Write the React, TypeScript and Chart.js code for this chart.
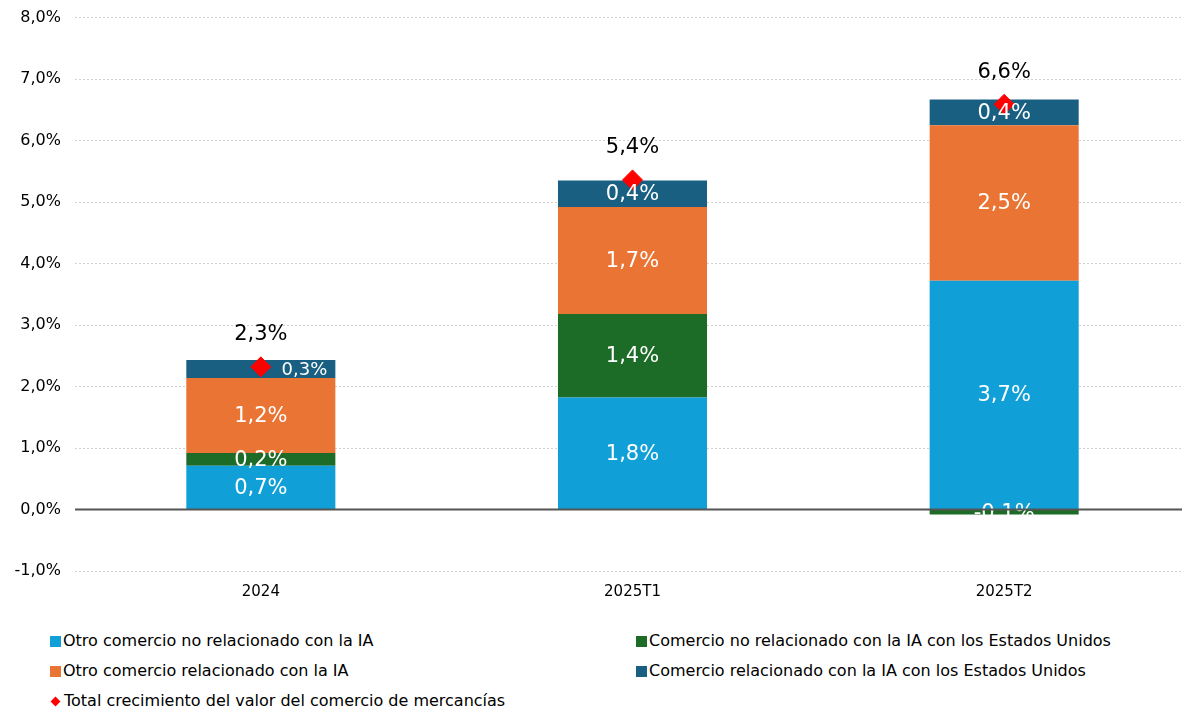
import React, { useEffect, useRef } from "react";
import { Chart, registerables } from "chart.js";

Chart.register(...registerables);

const categories = ["2024", "2025T1", "2025T2"];
const otroNoIA = [0.71, 1.82, 3.72];
const usNoIA = [0.21, 1.36, -0.08];
const otroIA = [1.22, 1.74, 2.53];
const usIA = [0.29, 0.43, 0.42];
const total = [2.32, 5.36, 6.59];

const seriesNames = [
  "Otro comercio no relacionado con la IA",
  "Comercio no relacionado con la IA con los Estados Unidos",
  "Otro comercio relacionado con la IA",
  "Comercio relacionado con la IA con los Estados Unidos",
  "Total crecimiento del valor del comercio de mercancías",
];
const colors = ["#119FD7", "#1C6B26", "#EA7434", "#185F82", "#FF0000"];

const FONT = "'DejaVu Sans', Verdana, sans-serif";
const fmt = (v: number) => v.toFixed(1).replace(".", ",") + "%";

const labelPlugin = {
  id: "segLabels",
  afterDatasetsDraw(chart: any) {
    const ctx = chart.ctx;
    ctx.save();
    ctx.textBaseline = "middle";
    const totalMeta = chart.getDatasetMeta(4);
    for (let d = 0; d < 4; d++) {
      const meta = chart.getDatasetMeta(d);
      const ds = chart.data.datasets[d];
      meta.data.forEach((el: any, i: number) => {
        const v = ds.data[i] as number;
        const top = Math.min(el.y, el.base);
        const bot = Math.max(el.y, el.base);
        const h = bot - top;
        let x = el.x;
        const y = (top + bot) / 2;
        let size = 21;
        const ty = totalMeta.data[i].y;
        ctx.textAlign = "center";
        if (h < 20 && ty > top && ty < bot) {
          size = 18;
          ctx.textAlign = "right";
          x = el.x + el.width / 2 - 8;
        }
        ctx.font = `${size}px ${FONT}`;
        ctx.fillStyle = "#ffffff";
        ctx.fillText(fmt(v), x, y + 1);
      });
    }
    ctx.textAlign = "center";
    ctx.font = `21px ${FONT}`;
    ctx.fillStyle = "#000000";
    totalMeta.data.forEach((el: any, i: number) => {
      ctx.fillText(fmt(total[i]), el.x, el.y - 32);
    });
    ctx.restore();
  },
};

const zeroLine = {
  id: "zeroLine",
  afterDatasetsDraw(chart: any) {
    const y = chart.scales.y.getPixelForValue(0);
    const ctx = chart.ctx;
    ctx.save();
    ctx.setLineDash([]);
    ctx.strokeStyle = "#555555";
    ctx.lineWidth = 2;
    ctx.beginPath();
    ctx.moveTo(chart.chartArea.left, y);
    ctx.lineTo(chart.chartArea.right, y);
    ctx.stroke();
    ctx.restore();
  },
};

export default function App() {
  const ref = useRef<HTMLCanvasElement | null>(null);
  useEffect(() => {
    if (!ref.current) return;
    const chart = new Chart(ref.current, {
      type: "bar",
      data: {
        labels: categories,
        datasets: [
          { label: seriesNames[0], data: otroNoIA, backgroundColor: colors[0], stack: "s", order: 2 },
          { label: seriesNames[1], data: usNoIA, backgroundColor: colors[1], stack: "s", order: 2 },
          { label: seriesNames[2], data: otroIA, backgroundColor: colors[2], stack: "s", order: 2 },
          { label: seriesNames[3], data: usIA, backgroundColor: colors[3], stack: "s", order: 2 },
          {
            type: "line",
            label: seriesNames[4],
            data: total,
            stack: "total",
            showLine: false,
            pointStyle: "rectRot",
            pointRadius: 10,
            pointBackgroundColor: colors[4],
            pointBorderColor: colors[4],
            borderColor: colors[4],
            backgroundColor: colors[4],
            order: 1,
          } as any,
        ],
      },
      options: {
        animation: false,
        responsive: true,
        maintainAspectRatio: false,
        layout: { padding: { top: 10, right: 3, left: 0, bottom: 0 } },
        plugins: { legend: { display: false }, tooltip: { enabled: false } },
        datasets: { bar: { barPercentage: 0.401, categoryPercentage: 1 } },
        scales: {
          x: {
            stacked: true,
            grid: { display: false, drawTicks: false },
            border: { display: false },
            ticks: { color: "#000", font: { family: FONT, size: 15 }, padding: 12 },
            afterFit: (s: any) => {
              s.height = 39;
            },
          },
          y: {
            stacked: true,
            min: -1,
            max: 8,
            ticks: {
              stepSize: 1,
              color: "#000",
              padding: 14,
              font: { family: FONT, size: 16 },
              callback: (v: any) => fmt(Number(v)),
            },
            border: { display: false, dash: [2, 2] },
            grid: {
              drawTicks: false,
              color: (c: any) => (c.tick && c.tick.value === 0 ? "#555555" : "#d0d0d0"),
              lineWidth: 1,
            },
            afterFit: (s: any) => {
              s.width = 75;
            },
          },
        },
      },
      plugins: [labelPlugin, zeroLine],
    });
    return () => chart.destroy();
  }, []);

  const legendItem = (i: number, left: number, top: number) => (
    <div
      key={i}
      style={{
        position: "absolute",
        left,
        top,
        display: "flex",
        alignItems: "center",
        fontFamily: FONT,
        fontSize: 16,
        color: "#000",
        whiteSpace: "nowrap",
        lineHeight: "20px",
      }}
    >
      {i === 4 ? (
        <span
          style={{
            display: "inline-block",
            width: 7,
            height: 7,
            background: colors[i],
            transform: "rotate(45deg)",
            marginLeft: 2,
            marginRight: 5,
          }}
        />
      ) : (
        <span
          style={{ display: "inline-block", width: 11, height: 11, background: colors[i], marginRight: 2 }}
        />
      )}
      <span>{seriesNames[i]}</span>
    </div>
  );

  return (
    <div
      style={{
        position: "fixed",
        left: 0,
        top: 0,
        width: 1182,
        height: 713,
        background: "#fff",
        overflow: "hidden",
      }}
    >
      <div style={{ position: "absolute", left: 0, top: -6, width: 1201, height: 616 }}>
        <canvas ref={ref} />
      </div>
      {legendItem(0, 50, 631)}
      {legendItem(1, 636, 631)}
      {legendItem(2, 50, 661)}
      {legendItem(3, 636, 661)}
      {legendItem(4, 50, 691)}
    </div>
  );
}
